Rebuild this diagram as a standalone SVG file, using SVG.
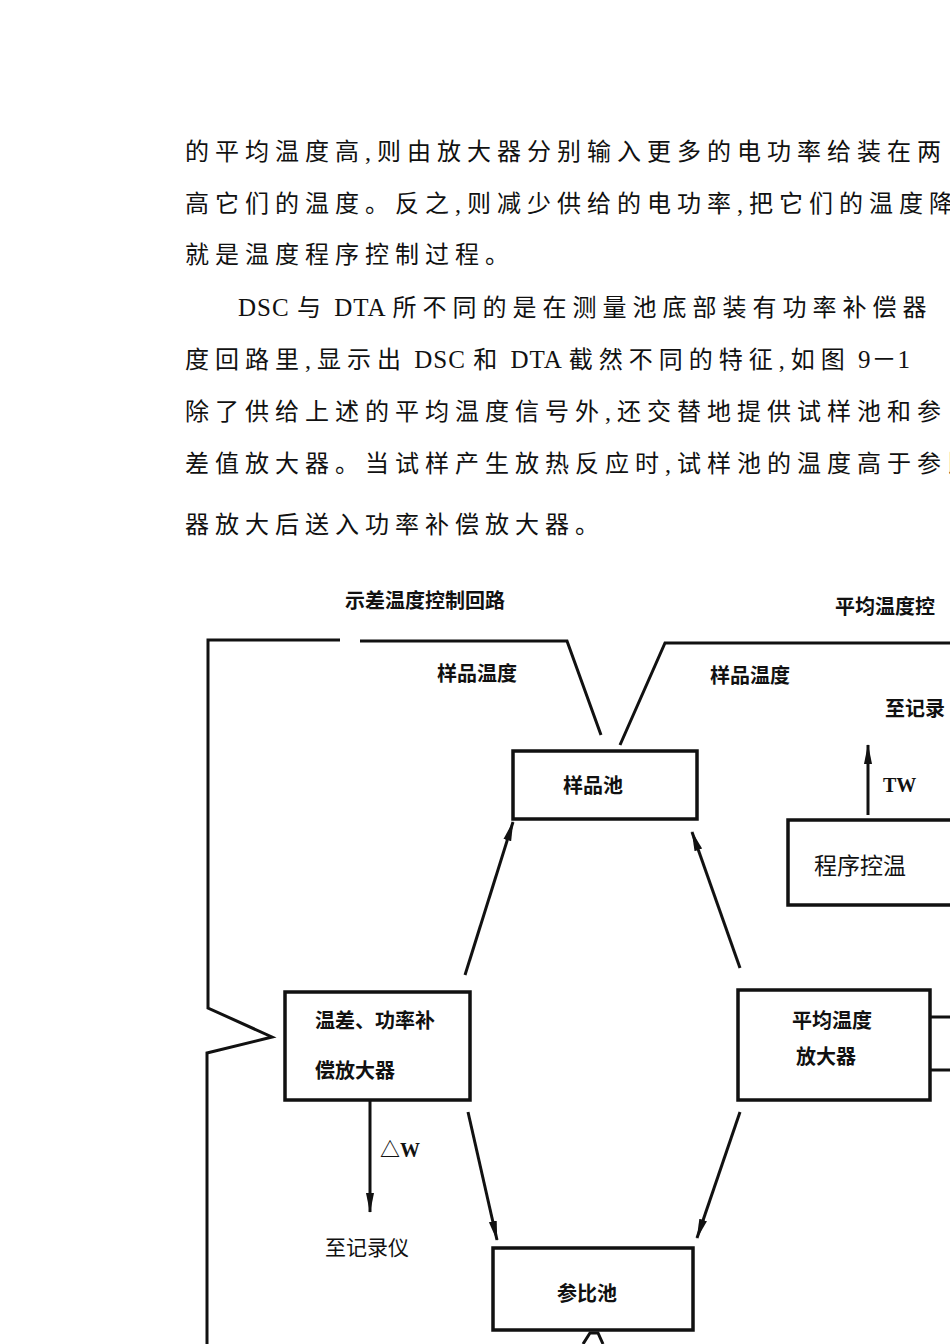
<svg xmlns="http://www.w3.org/2000/svg" width="950" height="1344" viewBox="0 0 950 1344">
<style>
.p{font-family:"Liberation Serif","Noto Sans CJK SC",serif;font-size:24px;fill:#111;letter-spacing:6px}
.l{letter-spacing:1px;font-size:25px}
.b{font-family:"Noto Sans CJK SC",sans-serif;font-size:20px;font-weight:bold;fill:#111}
.r{font-family:"Noto Sans CJK SC",sans-serif;font-size:23px;fill:#111}
.box{fill:none;stroke:#111;stroke-width:3.5}
.ln{fill:none;stroke:#111;stroke-width:3}
</style>
<defs>
<marker id="h" markerWidth="20" markerHeight="12" refX="19" refY="6" orient="auto" markerUnits="userSpaceOnUse"><path d="M0,2 L20,6 L0,10 Z" fill="#111"/></marker></defs>
<rect width="950" height="1344" fill="#fff"/>
<g id="text">
<text class="p" x="185" y="160">的平均温度高,则由放大器分别输入更多的电功率给装在两</text>
<text class="p" x="185" y="212">高它们的温度。反之,则减少供给的电功率,把它们的温度降</text>
<text class="p" x="185" y="263">就是温度程序控制过程。</text>
<text class="p" x="238" y="316"><tspan class="l">DSC </tspan>与<tspan class="l"> DTA </tspan>所不同的是在测量池底部装有功率补偿器</text>
<text class="p" x="185" y="368">度回路里,显示出<tspan class="l"> DSC </tspan>和<tspan class="l"> DTA </tspan>截然不同的特征,如图<tspan class="l"> 9－1</tspan></text>
<text class="p" x="185" y="420">除了供给上述的平均温度信号外,还交替地提供试样池和参</text>
<text class="p" x="185" y="472">差值放大器。当试样产生放热反应时,试样池的温度高于参比</text>
<text class="p" x="185" y="533">器放大后送入功率补偿放大器。</text>
<text class="b" x="345" y="608">示差温度控制回路</text>
<text class="b" x="835" y="614">平均温度控</text>
<text class="b" x="437" y="681">样品温度</text>
<text class="b" x="710" y="683">样品温度</text>
<text class="b" x="885" y="716">至记录</text>
<text class="b" x="883" y="792" style="font-family:'Liberation Serif',serif">TW</text>
<text class="b" x="380" y="1157" style="font-family:'Liberation Serif','Noto Sans CJK SC',serif">△W</text>
<text class="r" x="325" y="1255" style="font-size:21px">至记录仪</text>
</g>
<g id="n1"><rect class="box" x="513" y="751" width="184" height="68"/><text class="b" x="563" y="793">样品池</text></g>
<g id="n2"><rect class="box" x="788" y="820" width="170" height="85"/><text class="r" x="814" y="874">程序控温</text></g>
<g id="n3"><rect class="box" x="285" y="992" width="185" height="108"/><text class="b" x="315" y="1028">温差、功率补</text><text class="b" x="315" y="1078">偿放大器</text></g>
<g id="n4"><rect class="box" x="738" y="990" width="192" height="110"/><text class="b" x="792" y="1028">平均温度</text><text class="b" x="796" y="1064">放大器</text></g>
<g id="n5"><rect class="box" x="493" y="1248" width="200" height="82"/><text class="b" x="557" y="1301">参比池</text></g>
<g id="connectors">
<path class="ln" d="M340,640 H208 V1008 L272,1037 L207,1053 V1344"/>
<path class="ln" d="M360,641 H567 L601,735"/>
<path class="ln" d="M950,643 H665 L620,745"/>
<path class="ln" d="M868,815 V745" marker-end="url(#h)"/>
<path class="ln" d="M465,975 L513,822" marker-end="url(#h)"/>
<path class="ln" d="M740,968 L692,832" marker-end="url(#h)"/>
<path class="ln" d="M370,1100 V1212" marker-end="url(#h)"/>
<path class="ln" d="M468,1112 L497,1240" marker-end="url(#h)"/>
<path class="ln" d="M740,1112 L697,1238" marker-end="url(#h)"/>
<path class="ln" d="M930,1017 H950 M930,1070 H950"/>
<path class="ln" d="M583,1344 L590,1333 L598,1333 L603,1344"/>
</g>
</svg>
